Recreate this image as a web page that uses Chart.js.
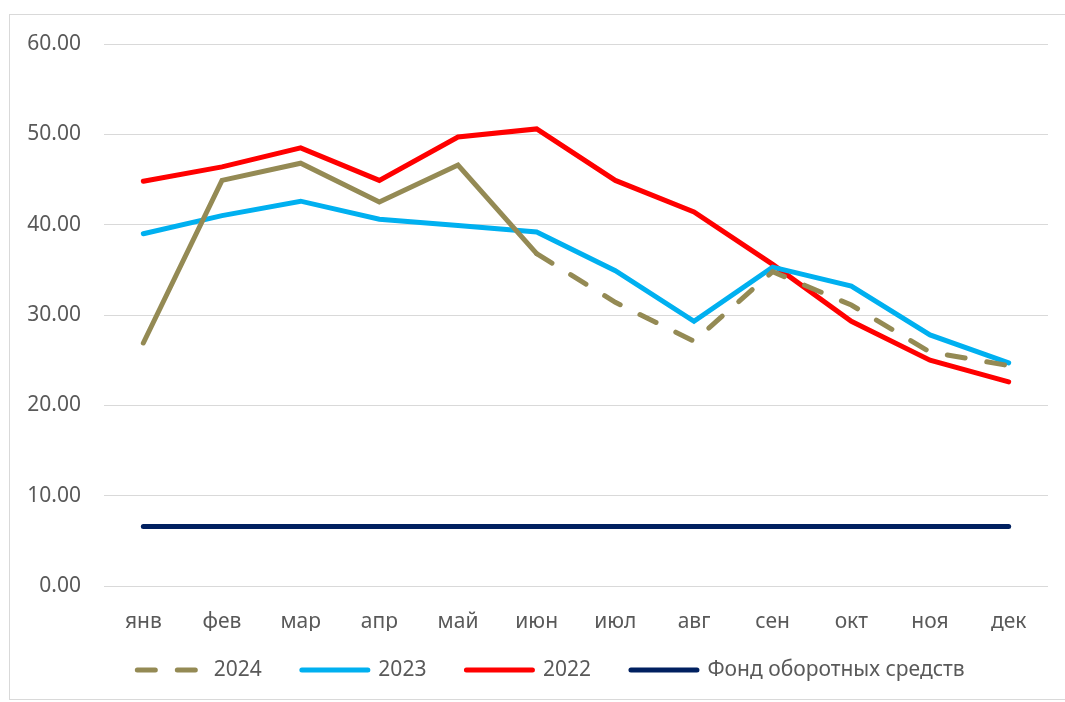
<!DOCTYPE html>
<html>
<head>
<meta charset="utf-8">
<script src="https://cdn.jsdelivr.net/npm/chart.js@4/dist/chart.umd.min.js"></script>
<style>
  html, body { margin: 0; padding: 0; background: #fff; }
  #wrap { position: relative; width: 1065px; height: 702px; }
  #frame { position: absolute; left: 9px; top: 14px; width: 1060px; height: 684px;
           border: 1px solid #d9d9d9; pointer-events: none; }
</style>
</head>
<body>
<div id="wrap">
  <canvas id="chart" width="1065" height="702"></canvas>
  <div id="frame"></div>
</div>
<script>
const months = ["янв", "фев", "мар", "апр", "май", "июн", "июл", "авг", "сен", "окт", "ноя", "дек"];
const yTicks = [0, 10, 20, 30, 40, 50, 60];

const data2024 = [26.9, 44.9, 46.8, 42.5, 46.6, 36.8, 31.4, 27.1, 34.8, 31.1, 25.9, 24.4];
const data2023 = [39.0, 41.0, 42.6, 40.6, 39.9, 39.2, 34.9, 29.3, 35.3, 33.2, 27.8, 24.7];
const data2022 = [44.8, 46.4, 48.5, 44.9, 49.7, 50.6, 44.9, 41.4, 35.6, 29.3, 25.0, 22.6];
const fund     = [6.6, 6.6, 6.6, 6.6, 6.6, 6.6, 6.6, 6.6, 6.6, 6.6, 6.6, 6.6];

const DASH = [18, 22];
const TEXT = "#595959";
const FONT = "'Noto Sans', sans-serif";
const LEGEND_SIZE = 21, LEGEND_PAD = 40;

function line(label, values, color) {
    return {
        label, data: values,
        borderColor: color, backgroundColor: color,
        borderWidth: 5, borderCapStyle: 'round', borderJoinStyle: 'miter',
        pointRadius: 0, pointHoverRadius: 0, tension: 0
    };
}

const ds2024 = line("2024", data2024, "#948A54");
// solid up to июн, dashed afterwards
ds2024.segment = { borderDash: c => c.p0DataIndex >= 5 ? DASH : undefined };

// legend row sits a bit higher and more to the right than chart.js would put it
const legendNudge = {
    id: 'legendNudge',
    afterLayout(chart) {
        const lg = chart.legend;
        const dy = 670 - (lg.top + LEGEND_PAD + LEGEND_SIZE / 2);
        lg.top += dy; lg.bottom += dy;
        lg.left += 54;
    }
};

new Chart(document.getElementById('chart'), {
    type: 'line',
    data: {
        labels: months,
        datasets: [
            ds2024,
            line("2023", data2023, "#00B0F0"),
            line("2022", data2022, "#FF0000"),
            line("Фонд оборотных средств", fund, "#002060")
        ]
    },
    plugins: [legendNudge],
    options: {
        responsive: false,
        animation: false,
        layout: { padding: { top: 44, right: 17, bottom: 0, left: 0 } },
        plugins: {
            tooltip: { enabled: false },
            legend: {
                position: 'bottom',
                labels: {
                    usePointStyle: true,
                    pointStyle: 'line',
                    pointStyleWidth: 66,
                    padding: LEGEND_PAD,
                    color: TEXT,
                    font: { family: FONT, size: LEGEND_SIZE },
                    generateLabels(chart) {
                        const items = Chart.defaults.plugins.legend.labels.generateLabels(chart);
                        items.forEach(it => {
                            it.lineCap = 'round';
                            it.lineWidth = 5;
                            if (it.datasetIndex === 0) it.lineDash = DASH;
                        });
                        return items;
                    }
                }
            }
        },
        scales: {
            x: {
                offset: true,
                grid: { display: false, drawTicks: false },
                border: { display: false },
                ticks: { color: TEXT, padding: 23, font: { family: FONT, size: 21 } },
                afterFit: s => { s.height = 45; }
            },
            y: {
                min: 0, max: 60,
                afterBuildTicks: s => { s.ticks = yTicks.map(v => ({ value: v })); },
                grid: { color: "#d9d9d9", lineWidth: 1, drawTicks: false },
                border: { display: false },
                ticks: {
                    color: TEXT, padding: 23,
                    font: { family: FONT, size: 21 },
                    callback: v => v.toFixed(2)
                },
                afterFit: s => { s.width = 104; }
            }
        }
    }
});
</script>
</body>
</html>
